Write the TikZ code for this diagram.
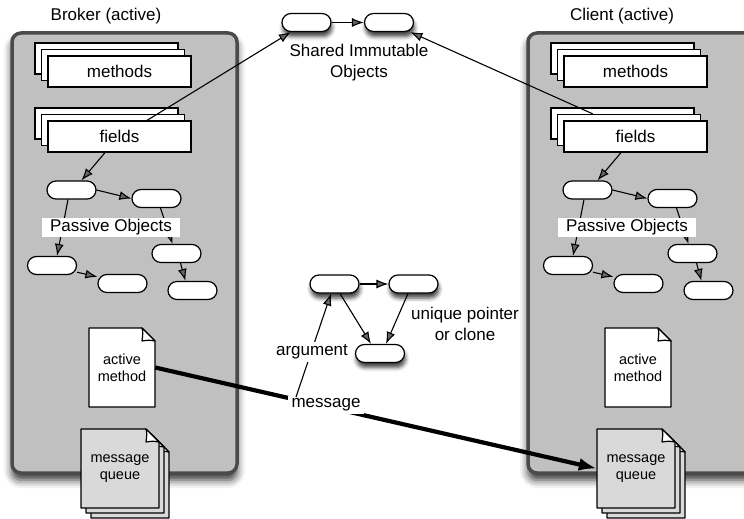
\documentclass[tikz,border=0pt]{standalone}
\usepackage{fontspec}
\setmainfont{Liberation Sans}
\usetikzlibrary{arrows.meta,shadows.blur}
\definecolor{boxfill}{HTML}{C0C0C0}
\definecolor{boxline}{HTML}{4A4A4A}
\definecolor{qfill}{HTML}{D9D9D9}
\tikzset{
 actor/.style={draw=boxline, line width=3.5pt, fill=boxfill, rounded corners=9pt,
   blur shadow={shadow xshift=0pt, shadow yshift=-7pt, shadow blur radius=8pt, shadow opacity=80}},
 pill/.style={draw, line width=1.2pt, fill=white, rounded corners=9pt, minimum width=49pt, minimum height=18pt, inner sep=0pt},
 pillsh/.style={pill, blur shadow={shadow xshift=1pt, shadow yshift=-5pt, shadow blur radius=4pt, shadow opacity=75}},
 card/.style={draw, line width=1.2pt, fill=white, minimum width=143pt, minimum height=31pt, inner sep=0pt},
 arr/.style={line width=1.1pt, -{Latex[length=12pt,width=9pt]}},
 lbl/.style={fill=white, inner sep=3pt},
 txt/.style={inner sep=0pt, align=center},
 small/.style={font=\fontsize{14.5}{17}\selectfont},
 docbox/.style={txt, small, minimum width=#1},
}
\newcommand\mystack[4]{%
 \draw[line width=1.2pt, fill=white] (#2-84.5,#3-28.5) rectangle ++(143,31);
 \draw[line width=1.2pt, fill=white] (#2-78,#3-22) rectangle ++(143,31);
 \node[card] (#1) at (#2,#3) {#4};
}
\newcommand\mydoc[5]{%
 \draw[line width=1.2pt, fill=#5, line join=round] (#1,#2) -- (#1+#3-13,#2) -- (#1+#3,#2+13) -- (#1+#3,#2+#4) -- (#1,#2+#4) -- cycle;
 \draw[line width=1.2pt, fill=white, line join=round] (#1+#3-13,#2) .. controls (#1+#3-12,#2+5) .. (#1+#3-13,#2+13) .. controls (#1+#3-6,#2+12) .. (#1+#3,#2+13) -- cycle;
}
\begin{document}
\begin{tikzpicture}[x=1pt, y=-1pt, font=\fontsize{17}{21}\selectfont]
\useasboundingbox (0,0) rectangle (744,519);
% actor boxes
\path[actor] (12,33) rectangle (237,473);
\path[actor] (528,33) rectangle (770,473);
\node[txt] (brokerT) at (106,16) {Broker (active)};
\node[txt] (clientT) at (622,16) {Client (active)};
% stacks
\mystack{mB}{119.5}{71.5}{methods}
\mystack{fB}{119.5}{136.5}{fields}
\mystack{mC}{635.5}{71.5}{methods}
\mystack{fC}{635.5}{136.5}{fields}
% passive objects broker
\node[pill] (aB) at (71.5,190) {};
\node[pill] (bB) at (156.5,198.5) {};
\node[pill] (cB) at (52,265.5) {};
\node[pill] (dB) at (122.5,283.5) {};
\node[pill] (eB) at (176.5,253.5) {};
\node[pill] (gB) at (192.5,290.5) {};
% passive objects client
\node[pill] (aC) at (587.5,190) {};
\node[pill] (bC) at (672.5,198.5) {};
\node[pill] (cC) at (568,265.5) {};
\node[pill] (dC) at (638.5,283.5) {};
\node[pill] (eC) at (692.5,253.5) {};
\node[pill] (gC) at (708.5,290.5) {};
\foreach \s in {B,C}{
 \draw[arr] ([xshift=-14.5pt]f\s.south) -- ([xshift=10pt]a\s.north);
 \draw[arr] (a\s.east) -- (b\s.west);
 \draw[arr] ([xshift=-3.5pt]a\s.south) -- ([xshift=5pt]c\s.north);
 \draw[arr] ([xshift=4pt]b\s.south) -- ([xshift=-4pt]e\s.north);
 \draw[arr] ([xshift=4pt]e\s.south) -- ([xshift=-7pt]g\s.north);
 \draw[arr] (c\s.-15) -- (d\s.165);
}
\node[lbl, inner xsep=8pt, inner ysep=2pt] (poB) at (111,227.5) {Passive Objects};
\node[lbl, inner xsep=8pt, inner ysep=2pt] (poC) at (627,227.5) {Passive Objects};
% documents
\mydoc{89}{328}{66}{79}{white}
\node[docbox=66pt, minimum height=79pt] (amB) at (122,367.5) {active\\method};
\mydoc{605}{328}{66}{79}{white}
\node[docbox=66pt, minimum height=79pt] (amC) at (638,367.5) {active\\method};
\mydoc{91}{439}{78}{79}{qfill}
\mydoc{86}{434}{78}{79}{qfill}
\mydoc{81}{429}{78}{79}{qfill}
\node[docbox=78pt, minimum height=79pt] (mqB) at (120,468.5) {message\\queue};
\mydoc{607}{439}{78}{79}{qfill}
\mydoc{602}{434}{78}{79}{qfill}
\mydoc{597}{429}{78}{79}{qfill}
\node[docbox=78pt, minimum height=79pt] (mqC) at (636,468.5) {message\\queue};
% shared immutable objects
\node[pillsh] (s1) at (306.5,22.5) {};
\node[pillsh] (s2) at (389,22.5) {};
\draw[arr] (s1.east) -- (s2.west);
\node[txt] (sharedT) at (359,63) {Shared Immutable\\Objects};
\coordinate (fBtop) at (146,121);
\coordinate (fCtop) at (593,114);
\draw[arr] (fBtop) -- (s1);
\draw[arr] (fCtop) -- (s2);
% middle graph
\node[pillsh] (m1) at (334.5,284) {};
\node[pillsh] (m2) at (413.5,284) {};
\node[pillsh] (m3) at (380,353.5) {};
\draw[arr] (m1.east) -- (m2.west);
\draw[arr] ([xshift=5.5pt]m1.south) -- ([xshift=-9pt]m3.north);
\draw[arr] ([xshift=-5.5pt]m2.south) -- ([xshift=6pt]m3.north);
\node[txt] (uniqueT) at (465,324) {unique pointer\\or clone};
% message
\draw[line width=4.2pt, -{Latex[length=18pt,width=13pt]}] (amB.east) -- (mqC.west);
\node[lbl, inner xsep=4pt] (msg) at (326,405) {message};
\coordinate (argstart) at (296,397);
\draw[arr] (argstart) -- ([xshift=-3.5pt]m1.south);
\node[lbl] (argT) at (312,352) {argument};
\end{tikzpicture}
\end{document}
